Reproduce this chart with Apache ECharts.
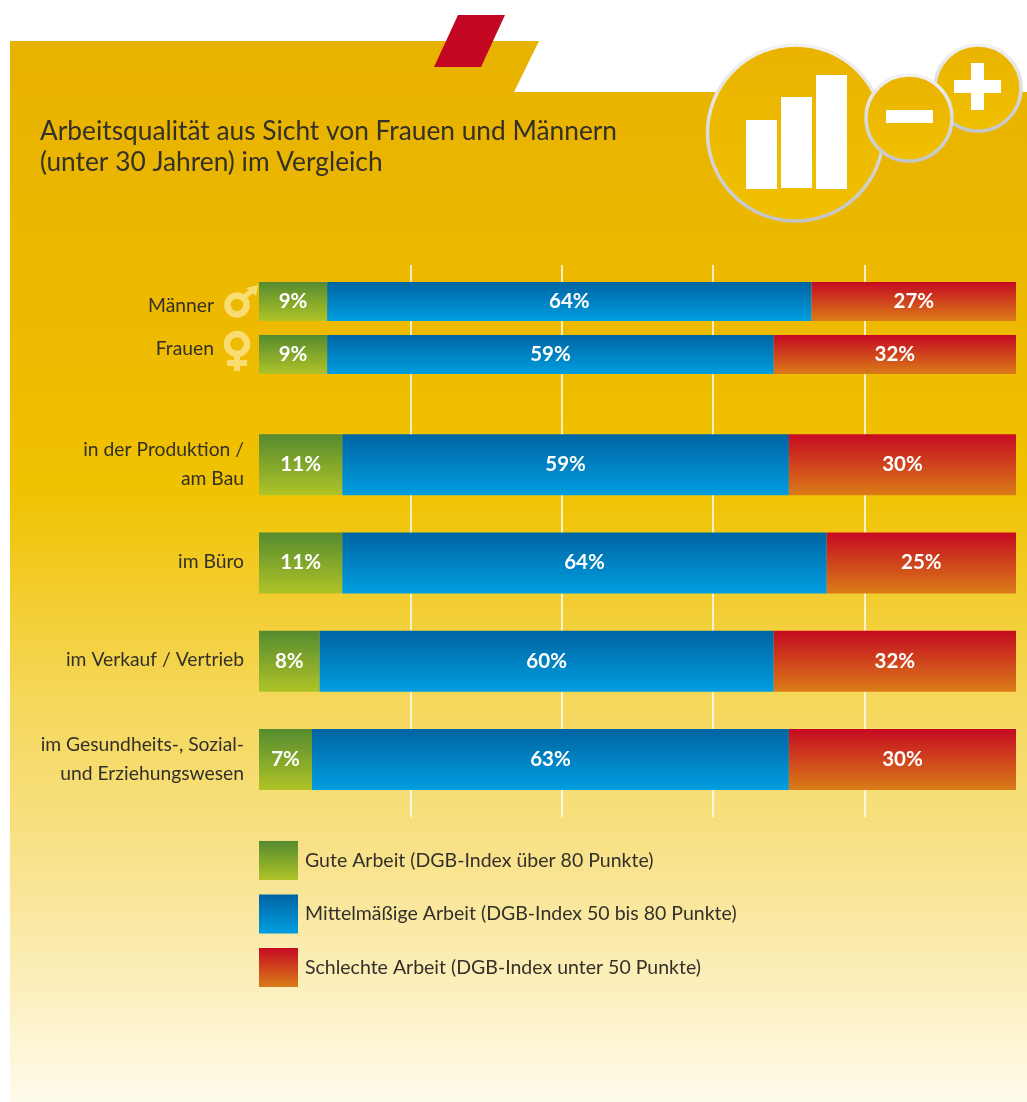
<!DOCTYPE html>
<html><head><meta charset="utf-8">
<style>html,body{margin:0;padding:0;background:#fff}#c{width:1027px;height:1102px}</style>
<script src="https://cdn.jsdelivr.net/npm/echarts@6/dist/echarts.min.js"></script></head>
<body><div id="c"></div>
<script>
const titleText = "Arbeitsqualität aus Sicht von Frauen und Männern\n(unter 30 Jahren) im Vergleich";
const genderCategories = ["Männer", "Frauen"];
const goodGender = [9, 9];
const midGender = [64, 59];
const badGender = [27, 32];
const jobCategories = ["in der Produktion /\nam Bau", "im Büro", "im Verkauf / Vertrieb", "im Gesundheits-, Sozial-\nund Erziehungswesen"];
const goodJob = [11, 11, 8, 7];
const midJob = [59, 64, 60, 63];
const badJob = [30, 25, 32, 30];
const seriesNames = ["Gute Arbeit (DGB-Index über 80 Punkte)", "Mittelmäßige Arbeit (DGB-Index 50 bis 80 Punkte)", "Schlechte Arbeit (DGB-Index unter 50 Punkte)"];

const FONT = "Lato";
const TEXT = '#33302a';
const grad = (a, b, x2 = 0, y2 = 1) => ({type: 'linear', x: 0, y: 0, x2, y2, colorStops: [{offset: 0, color: a}, {offset: 1, color: b}]});
const colors = [grad('#558B2F', '#AFC327'), grad('#0064A2', '#009EE0'), grad('#C50A22', '#DA7C17')];

function bar(name, data, idx, axis, width) {
  return {
    type: 'bar', name, data, stack: 'g' + axis, xAxisIndex: axis, yAxisIndex: axis, barWidth: width,
    itemStyle: {color: colors[idx]},
    label: {show: true, position: 'inside', formatter: '{c}%', color: '#fff', fontFamily: FONT, fontWeight: 'bold', fontSize: 20.5}
  };
}
const xBase = {type: 'value', min: 0, max: 100, interval: 20, axisLine: {show: false}, axisTick: {show: false}, axisLabel: {show: false}, splitLine: {show: false}};
const tok = (padding, lineHeight) => ({fontFamily: FONT, fontSize: 19.3, color: TEXT, padding, lineHeight});
const catBase = (data, margin, formatter) => ({
  type: 'category', data, inverse: true, axisLine: {show: false}, axisTick: {show: false},
  axisLabel: {
    margin, align: 'right', formatter, color: TEXT, fontFamily: FONT, fontSize: 19.3,
    rich: {a: tok([8, 0, 0, 0], 24), b: tok([0, 0, 12, 0], 24), j: tok([0, 0, 2, 0], 27), s: tok([0, 0, 0, 0], 29)}
  }
});
const circle = (cx, cy, r) => ({
  type: 'circle', shape: {cx, cy, r},
  style: {fill: grad('#E9B300', '#F0C000'), stroke: grad('#F2F2F2', '#C4C4C4'), lineWidth: 3.5}
});
const rect = (x, y, w, h) => ({type: 'rect', shape: {x, y, width: w, height: h}, style: {fill: '#fff'}});
const ICON = '#F9DD72';

const chart = echarts.init(document.getElementById('c'), null, {renderer: 'canvas'});
chart.setOption({
  animation: false,
  title: {text: titleText, left: 35, top: 111, textStyle: {fontFamily: FONT, fontWeight: 'normal', fontSize: 26.3, lineHeight: 31, color: TEXT}},
  legend: {
    left: 254, top: 836, orient: 'vertical', itemWidth: 39, itemHeight: 39, itemGap: 14.5, icon: 'rect',
    data: seriesNames, selectedMode: false,
    textStyle: {fontFamily: FONT, fontSize: 19.5, color: TEXT, padding: [0, 0, 2, 2]}
  },
  grid: [
    {left: 259, width: 757, top: 265, height: 552},
    {left: 259, width: 757, top: 275, height: 106},
    {left: 259, width: 757, top: 415.5, height: 393}
  ],
  xAxis: [
    Object.assign({}, xBase, {gridIndex: 0, splitLine: {show: true, showMinLine: false, showMaxLine: false, lineStyle: {color: '#fff', width: 1.5}}}),
    Object.assign({}, xBase, {gridIndex: 1}),
    Object.assign({}, xBase, {gridIndex: 2})
  ],
  yAxis: [
    {type: 'value', gridIndex: 0, show: false, splitLine: {show: false}},
    Object.assign(catBase(genderCategories, 45, (v, i) => `{${i === 0 ? 'a' : 'b'}|${v}}`), {gridIndex: 1}),
    Object.assign(catBase(jobCategories, 15, v => v.includes('\n') ? v.split('\n').map(s => `{s|${s}}`).join('\n') : `{j|${v}}`), {gridIndex: 2})
  ],
  series: [
    bar(seriesNames[0], goodGender, 0, 1, 39),
    bar(seriesNames[1], midGender, 1, 1, 39),
    bar(seriesNames[2], badGender, 2, 1, 39),
    bar(seriesNames[0], goodJob, 0, 2, 61),
    bar(seriesNames[1], midJob, 1, 2, 61),
    bar(seriesNames[2], badJob, 2, 2, 61)
  ],
  graphic: [
    {type: 'group', silent: true, z: -10, children: [
      {type: 'polygon', shape: {points: [[10, 41], [539, 41], [514, 92], [1027, 92], [1027, 1102], [10, 1102]]},
       style: {fill: {type: 'linear', x: 0, y: 0, x2: 0, y2: 1, colorStops: [
         {offset: 0, color: '#E8B200'}, {offset: 0.25, color: '#EDB900'}, {offset: 0.42, color: '#F0C200'},
         {offset: 0.62, color: '#F5D75A'}, {offset: 0.76, color: '#F8E187'}, {offset: 0.9, color: '#FCF0C0'}, {offset: 1, color: '#FFFBEC'}]}}},
      {type: 'polygon', shape: {points: [[458, 15], [505, 15], [481, 67], [434, 67]]}, style: {fill: '#C30621'}},
      circle(795.5, 133, 88),
      circle(978, 88, 43),
      circle(909, 118, 43),
      rect(746, 120, 31, 69), rect(781, 97, 31, 91), rect(816, 75, 31, 114),
      rect(886, 110, 47, 13),
      rect(954, 80, 47, 13), rect(971, 63, 13, 47),
      {type: 'circle', shape: {cx: 237, cy: 305, r: 9.5}, style: {fill: 'none', stroke: ICON, lineWidth: 6.5}},
      {type: 'line', shape: {x1: 243, y1: 298, x2: 254, y2: 289}, style: {stroke: ICON, lineWidth: 5}},
      {type: 'polygon', shape: {points: [[246, 288], [258, 285], [256, 296]]}, style: {fill: ICON}},
      {type: 'circle', shape: {cx: 237, cy: 344, r: 10}, style: {fill: 'none', stroke: ICON, lineWidth: 6.5}},
      {type: 'rect', shape: {x: 234, y: 356, width: 6, height: 15}, style: {fill: ICON}},
      {type: 'rect', shape: {x: 227, y: 360, width: 20, height: 6}, style: {fill: ICON}}
    ]}
  ]
});
</script></body></html>
